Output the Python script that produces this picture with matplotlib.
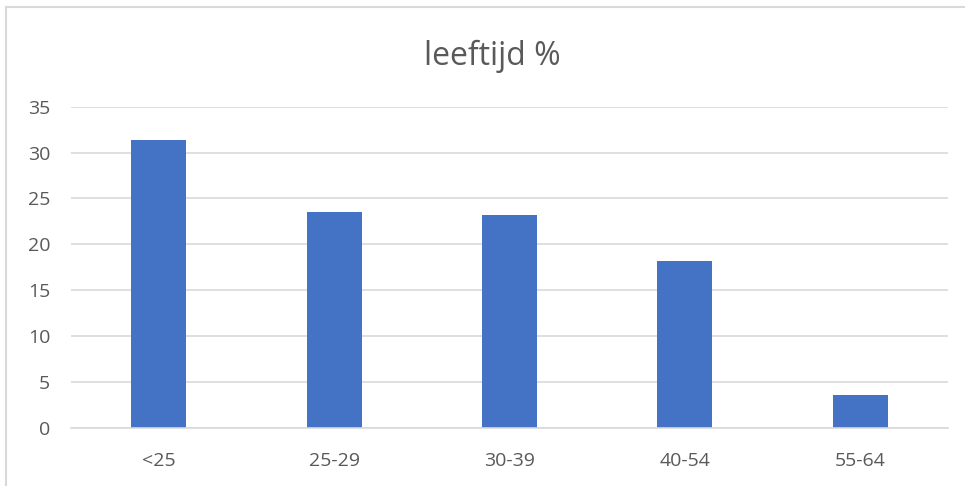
import matplotlib.pyplot as plt
from matplotlib.lines import Line2D

# leeftijdsverdeling in procenten
categories = ['<25', '25-29', '30-39', '40-54', '55-64']
values = [31.35, 23.55, 23.25, 18.2, 3.6]
yticks = [0, 5, 10, 15, 20, 25, 30, 35]

plt.rcParams['font.family'] = ['Open Sans', 'DejaVu Sans']
text_color = '#595959'
grid_color = '#d9d9d9'

fig = plt.figure(figsize=(9.65, 4.86), dpi=100)
ax = fig.add_axes([0.0736, 0.1193, 0.9088, 0.6612])

x = range(len(categories))
ax.bar(x, values, width=0.314, color='#4472C4', zorder=3)

ax.set_xlim(-0.5, len(categories) - 0.5)
ax.set_ylim(0, 35)
ax.set_yticks(yticks)
ax.set_xticks(list(x))
ax.set_xticklabels(categories)

ax.grid(axis='y', color=grid_color, linewidth=1.2, zorder=0)
for side in ['top', 'right', 'left']:
    ax.spines[side].set_visible(False)
ax.spines['bottom'].set_color(grid_color)
ax.spines['bottom'].set_linewidth(1.2)
ax.spines['bottom'].set_zorder(4)

ax.tick_params(axis='both', length=0, labelsize=14, colors=text_color)
ax.tick_params(axis='y', pad=15)
ax.tick_params(axis='x', pad=17)

fig.text(0.51, 0.885, 'leeftijd %', ha='center', va='center',
         fontsize=23, color=text_color)

# rand van het grafiekgebied (alleen links en boven zichtbaar)
fig.add_artist(Line2D([6 / 965, 6 / 965], [0, 1 - 7 / 486], color=grid_color,
                      linewidth=1.5, transform=fig.transFigure))
fig.add_artist(Line2D([6 / 965, 1], [1 - 7 / 486, 1 - 7 / 486], color=grid_color,
                      linewidth=1.5, transform=fig.transFigure))

plt.savefig('out.png', dpi=100)
